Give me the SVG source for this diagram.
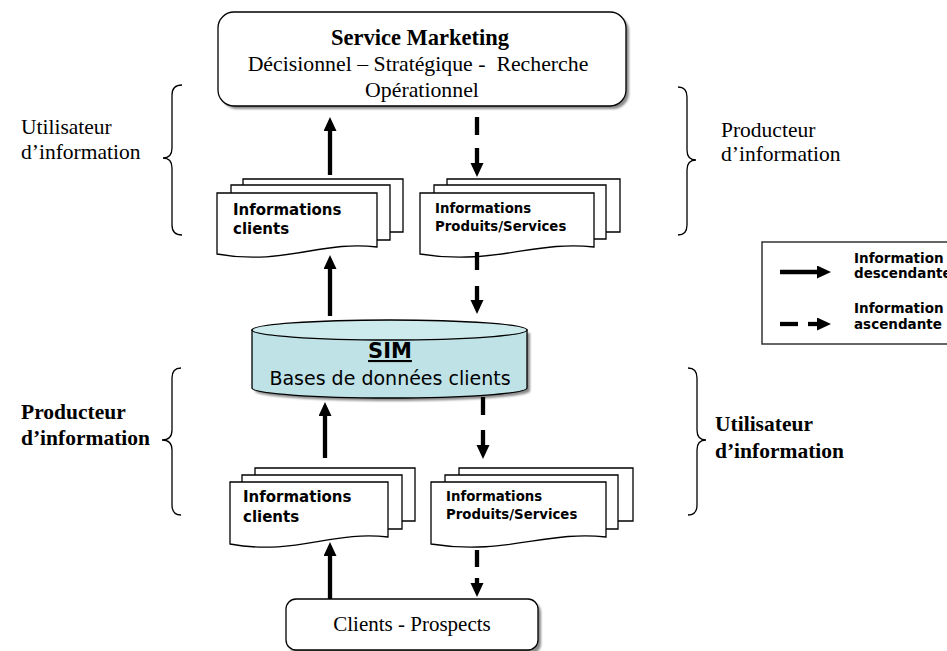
<svg xmlns="http://www.w3.org/2000/svg" width="947" height="651" viewBox="0 0 947 651">
  <style>
    .box { fill: #ffffff; stroke: #000000; stroke-width: 1.3; }
    .shadow { fill: #8a8a8a; }
    .page { fill: #ffffff; stroke: #000000; stroke-width: 1.3; }
    .serif { font-family: "Liberation Serif", "Times New Roman", serif; fill: #000; }
    .sans { font-family: "DejaVu Sans", Verdana, sans-serif; fill: #000; }
    .b { font-weight: bold; }
    .brace { fill: none; stroke: #000; stroke-width: 1.3; }
    .link { stroke: #000; stroke-width: 4.3; fill: none; }
  </style>
  <defs>
    <marker id="head" markerUnits="userSpaceOnUse" markerWidth="15" markerHeight="14" refX="0" refY="6.5" orient="auto">
      <path d="M0,0 L14,6.5 L0,13 Z" fill="#000"/>
    </marker>
    <filter id="soft" x="-5%" y="-5%" width="110%" height="120%">
      <feGaussianBlur stdDeviation="0.8"/>
    </filter>
  </defs>

  <rect width="947" height="651" fill="#ffffff"/>

  <!-- Service Marketing -->
  <g id="service-marketing">
    <rect class="shadow" x="221" y="15" width="408" height="94" rx="16" filter="url(#soft)"/>
    <rect class="box" x="218" y="12" width="408" height="94" rx="16"/>
    <text class="serif b" x="420" y="45" font-size="22.5" text-anchor="middle">Service Marketing</text>
    <text class="serif" x="418" y="71" font-size="21.8" text-anchor="middle" xml:space="preserve">Décisionnel – Stratégique -  Recherche</text>
    <text class="serif" x="422" y="97" font-size="21.8" text-anchor="middle">Opérationnel</text>
  </g>

  <!-- Top left documents -->
  <g id="doc-clients-top">
    <path class="page" d="M243,179 H403 V232 H243 Z"/>
    <path class="page" d="M231,185 H390 V240 H231 Z"/>
    <path class="page" d="M217,193 H377 V247 C322,240 284,266 217,254 Z"/>
    <text class="sans b" x="233" y="215" font-size="15">Informations</text>
    <text class="sans b" x="233" y="234" font-size="15">clients</text>
  </g>

  <!-- Top right documents -->
  <g id="doc-produits-top">
    <path class="page" d="M447,179 H620 V232 H447 Z"/>
    <path class="page" d="M434,185 H606 V239 H434 Z"/>
    <path class="page" d="M420,193 H594 V247 C535,240 494,266 420,254 Z"/>
    <text class="sans b" x="435" y="213" font-size="13.3">Informations</text>
    <text class="sans b" x="435" y="231" font-size="13.3">Produits/Services</text>
  </g>

  <!-- SIM database -->
  <g id="sim">
    <path class="shadow" d="M255,333 V391 A137.5,10 0 0 0 530,391 V333 Z" filter="url(#soft)"/>
    <path d="M252,330 V388 A137.5,10 0 0 0 527,388 V330 Z" fill="#bee2e6" stroke="#000" stroke-width="1.3"/>
    <ellipse cx="389.5" cy="330" rx="137.5" ry="10" fill="#cdeaed" stroke="#000" stroke-width="1.3"/>
    <text class="sans b" x="390" y="358" font-size="21" text-anchor="middle" text-decoration="underline">SIM</text>
    <text class="sans" x="390" y="385" font-size="19" text-anchor="middle">Bases de données clients</text>
  </g>

  <!-- Bottom left documents -->
  <g id="doc-clients-bottom">
    <path class="page" d="M255,468 H415 V521 H255 Z"/>
    <path class="page" d="M242,475 H402 V529 H242 Z"/>
    <path class="page" d="M230,482 H388 V537 C333,530 295,556 230,544 Z"/>
    <text class="sans b" x="243" y="502" font-size="15">Informations</text>
    <text class="sans b" x="243" y="522" font-size="15">clients</text>
  </g>

  <!-- Bottom right documents -->
  <g id="doc-produits-bottom">
    <path class="page" d="M459,468 H633 V521 H459 Z"/>
    <path class="page" d="M445,475 H618 V529 H445 Z"/>
    <path class="page" d="M431,482 H606 V537 C547,530 505,556 431,544 Z"/>
    <text class="sans b" x="446" y="501" font-size="13.3">Informations</text>
    <text class="sans b" x="446" y="519" font-size="13.3">Produits/Services</text>
  </g>

  <!-- Clients - Prospects -->
  <g id="clients-prospects">
    <rect class="shadow" x="289" y="602" width="252" height="52" rx="10" filter="url(#soft)"/>
    <rect class="box" x="286" y="599" width="252" height="51" rx="10"/>
    <text class="serif" x="412" y="631" font-size="21" text-anchor="middle">Clients - Prospects</text>
  </g>

  <!-- Braces and side labels -->
  <g id="label-utilisateur-top">
    <path class="brace" d="M182,85 Q172,85 172,95 V148 Q172,158 163,158 Q172,158 172,168 V225 Q172,235 182,235"/>
    <text class="serif" x="21" y="134" font-size="21.5">Utilisateur</text>
    <text class="serif" x="21" y="159" font-size="21.5">d’information</text>
  </g>
  <g id="label-producteur-top">
    <path class="brace" d="M678,87 Q687,87 687,97 V150 Q687,160 696,160 Q687,160 687,170 V225 Q687,235 678,235"/>
    <text class="serif" x="721" y="137" font-size="21.5">Producteur</text>
    <text class="serif" x="721" y="161" font-size="21.5">d’information</text>
  </g>
  <g id="label-producteur-bottom">
    <path class="brace" d="M181,368 Q172,368 172,378 V430 Q172,440 162,440 Q172,440 172,450 V505 Q172,515 181,515"/>
    <text class="serif b" x="21" y="419" font-size="21.5">Producteur</text>
    <text class="serif b" x="21" y="445" font-size="21.5">d’information</text>
  </g>
  <g id="label-utilisateur-bottom">
    <path class="brace" d="M688,368 Q697,368 697,378 V430 Q697,440 706,440 Q697,440 697,450 V505 Q697,515 688,515"/>
    <text class="serif b" x="715" y="431" font-size="21.5">Utilisateur</text>
    <text class="serif b" x="715" y="458" font-size="21.5">d’information</text>
  </g>

  <!-- Legend -->
  <g id="legend">
    <rect x="762" y="242" width="200" height="102" fill="#fff" stroke="#333" stroke-width="1.5"/>
    <line class="link" x1="780" y1="272" x2="817" y2="272" marker-end="url(#head)"/>
    <line class="link" x1="780" y1="324" x2="798" y2="324"/>
    <line class="link" x1="808" y1="324" x2="817" y2="324" marker-end="url(#head)"/>
    <text class="sans b" x="854" y="263" font-size="13.5">Information</text>
    <text class="sans b" x="854" y="278" font-size="13.5">descendante</text>
    <text class="sans b" x="854" y="313" font-size="13.5">Information</text>
    <text class="sans b" x="854" y="329" font-size="13.5">ascendante</text>
  </g>

  <!-- Connectors -->
  <g id="connectors">
    <!-- solid: upward flows -->
    <line class="link" x1="330" y1="175" x2="330" y2="131" marker-end="url(#head)"/>
    <line class="link" x1="330" y1="316" x2="330" y2="269" marker-end="url(#head)"/>
    <line class="link" x1="325" y1="458" x2="325" y2="416" marker-end="url(#head)"/>
    <line class="link" x1="330" y1="599" x2="330" y2="556" marker-end="url(#head)"/>
    <!-- dashed: downward flows -->
    <line class="link" x1="477" y1="117" x2="477" y2="135"/>
    <line class="link" x1="477" y1="148" x2="477" y2="163" marker-end="url(#head)"/>
    <line class="link" x1="477" y1="252" x2="477" y2="270"/>
    <line class="link" x1="477" y1="286" x2="477" y2="300" marker-end="url(#head)"/>
    <line class="link" x1="483" y1="397" x2="483" y2="415"/>
    <line class="link" x1="483" y1="430" x2="483" y2="445" marker-end="url(#head)"/>
    <line class="link" x1="477" y1="550" x2="477" y2="567"/>
    <line class="link" x1="477" y1="578" x2="477" y2="583" marker-end="url(#head)"/>
  </g>
</svg>
